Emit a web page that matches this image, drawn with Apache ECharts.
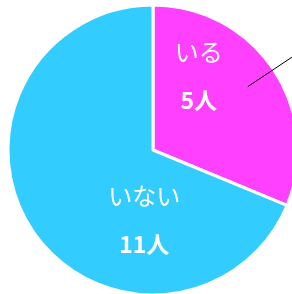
<!DOCTYPE html>
<html><head><meta charset="utf-8">
<style>html,body{margin:0;padding:0;background:#fff}#c{width:292px;height:294px}</style>
<script src="https://cdn.jsdelivr.net/npm/echarts@6/dist/echarts.min.js"></script>
</head><body><div id="c"></div>
<script>
const categories = ['いる', 'いない'];
const values = [5, 11];
const units = ['5人', '11人'];
const colors = ['#FF40FF', '#33CCFF'];
// label block padding [top, right, bottom, left] to nudge the inner labels
const labelPad = [[0, 34, 64, 0], [56, 0, 0, 108]];

const chart = echarts.init(document.getElementById('c'), null, {renderer: 'canvas'});
const font = '"Noto Sans CJK JP", "Noto Sans", sans-serif';
chart.setOption({
  animation: false,
  series: [{
    type: 'pie',
    z: 2,
    center: [153, 150],
    radius: 145,
    startAngle: 90,
    clockwise: true,
    avoidLabelOverlap: false,
    data: categories.map((c, i) => ({
      name: c, value: values[i],
      itemStyle: {color: colors[i]},
      label: {padding: labelPad[i]}
    })),
    itemStyle: {borderColor: '#fff', borderWidth: 3},
    label: {
      show: true,
      position: 'inside',
      formatter: p => '{n|' + p.name + '}\n{v|' + units[p.dataIndex] + '}',
      rich: {
        n: {color: '#fff', fontSize: 24, fontFamily: font, lineHeight: 48, align: 'center'},
        v: {color: '#fff', fontSize: 23, fontWeight: 'bold', fontFamily: font, lineHeight: 48, align: 'center'}
      }
    },
    labelLine: {show: false},
    emphasis: {disabled: true}
  }, {
    type: 'pie',
    z: 5,
    center: [153, 150],
    radius: 114,
    startAngle: 90,
    clockwise: true,
    silent: true,
    avoidLabelOverlap: false,
    data: categories.map((c, i) => ({
      name: c, value: values[i],
      itemStyle: {color: 'rgba(0,0,0,0)'},
      label: {show: i === 0},
      labelLine: {show: i === 0}
    })),
    label: {position: 'outside', formatter: ' ', color: '#000', fontSize: 12},
    labelLine: {length: 80, length2: 10, lineStyle: {color: '#000', width: 1}},
    emphasis: {disabled: true}
  }]
});
</script></body></html>
